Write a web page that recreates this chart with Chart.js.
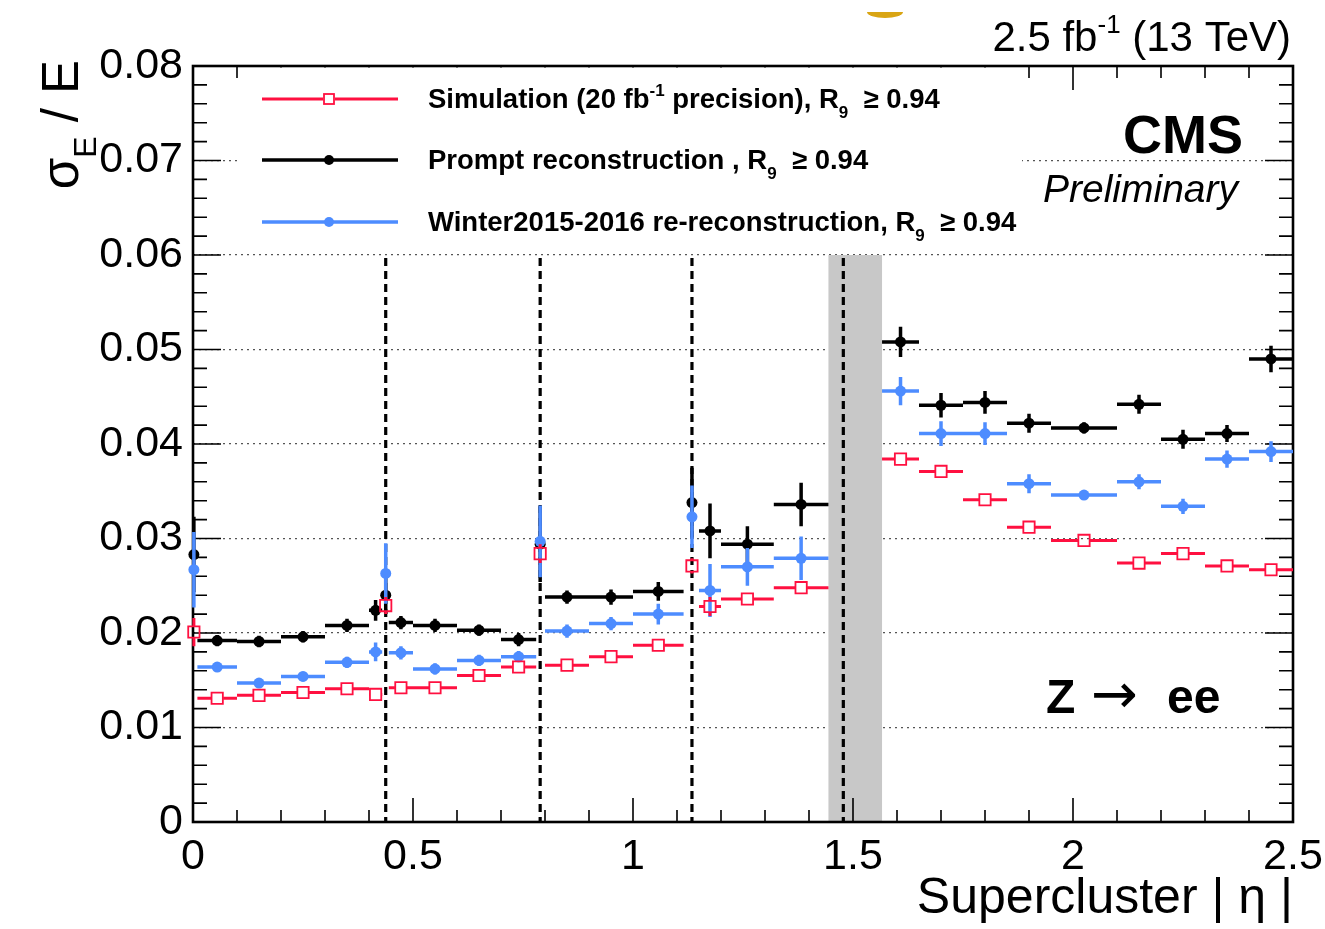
<!DOCTYPE html>
<html><head><meta charset="utf-8">
<script src="https://cdn.jsdelivr.net/npm/chart.js@4"></script>
<style>html,body{margin:0;padding:0;background:#fff;}canvas{display:block;}</style>
</head><body>
<canvas id="c" width="1325" height="929"></canvas>
<script>
// ---------------- data ----------------
const binLow  = [0.000, 0.010, 0.100, 0.200, 0.300, 0.400, 0.434, 0.445, 0.500, 0.600, 0.700, 0.785, 0.800, 0.900, 1.000, 1.130, 1.150, 1.200, 1.320, 1.566, 1.650, 1.750, 1.850, 1.950, 2.100, 2.200, 2.300, 2.400];
const binHigh = [0.004, 0.100, 0.200, 0.300, 0.400, 0.430, 0.442, 0.500, 0.600, 0.700, 0.780, 0.793, 0.900, 1.000, 1.115, 1.138, 1.200, 1.320, 1.4442, 1.650, 1.750, 1.850, 1.950, 2.100, 2.200, 2.300, 2.400, 2.500];

const simValues    = [0.0201, 0.0131, 0.0134, 0.0137, 0.0141, 0.0135, 0.0229, 0.0142, 0.0142, 0.0155, 0.0164, 0.0284, 0.0166, 0.0175, 0.0187, 0.0271, 0.0228, 0.0236, 0.0248, 0.0384, 0.0371, 0.0341, 0.0312, 0.0298, 0.0274, 0.0284, 0.0271, 0.0267];
const simErrors    = [0.0015, 0.0003, 0.0003, 0.0003, 0.0003, 0.0004, 0.0009, 0.0003, 0.0003, 0.0003, 0.0003, 0.0010, 0.0003, 0.0003, 0.0003, 0.0008, 0.0010, 0.0004, 0.0005, 0.0003, 0.0003, 0.0003, 0.0003, 0.0003, 0.0003, 0.0003, 0.0003, 0.0003];

const promptValues = [0.0283, 0.0192, 0.0191, 0.0196, 0.0208, 0.0224, 0.0240, 0.0211, 0.0208, 0.0203, 0.0193, 0.0294, 0.0238, 0.0238, 0.0244, 0.0338, 0.0308, 0.0294, 0.0336, 0.0508, 0.0441, 0.0444, 0.0422, 0.0417, 0.0442, 0.0405, 0.0411, 0.0490];
const promptErrors = [0.0040, 0.0006, 0.0006, 0.0006, 0.0007, 0.0011, 0.0020, 0.0007, 0.0007, 0.0006, 0.0007, 0.0040, 0.0007, 0.0008, 0.0010, 0.0037, 0.0029, 0.0019, 0.0023, 0.0016, 0.0013, 0.0012, 0.0010, 0.0006, 0.0010, 0.0010, 0.0009, 0.0014];

const rerecoValues = [0.0267, 0.0164, 0.0147, 0.0154, 0.0169, 0.0180, 0.0263, 0.0179, 0.0162, 0.0171, 0.0175, 0.0297, 0.0202, 0.0210, 0.0220, 0.0323, 0.0245, 0.0270, 0.0279, 0.0456, 0.0411, 0.0411, 0.0358, 0.0346, 0.0360, 0.0334, 0.0384, 0.0392];
const rerecoErrors = [0.0040, 0.0005, 0.0005, 0.0005, 0.0006, 0.0010, 0.0032, 0.0007, 0.0006, 0.0006, 0.0006, 0.0038, 0.0007, 0.0007, 0.0011, 0.0033, 0.0028, 0.0020, 0.0023, 0.0015, 0.0013, 0.0012, 0.0010, 0.0005, 0.0008, 0.0008, 0.0009, 0.0011];

const moduleBoundaries = [0.438, 0.789, 1.134, 1.478];
const gapRange = [1.4442, 1.566];

const xTickLabels = ['0', '0.5', '1', '1.5', '2', '2.5'];
const yTickLabels = ['0', '0.01', '0.02', '0.03', '0.04', '0.05', '0.06', '0.07', '0.08'];

const legendLabels = [
  [{t:'Simulation (20 fb'}, {t:'-1', s:'sup'}, {t:' precision), R'}, {t:'9', s:'sub'}, {t:'  \u2265 0.94'}],
  [{t:'Prompt reconstruction , R'}, {t:'9', s:'sub'}, {t:'  \u2265 0.94'}],
  [{t:'Winter2015-2016 re-reconstruction, R'}, {t:'9', s:'sub'}, {t:'  \u2265 0.94'}]
];

// ---------------- helpers ----------------
const FF = '"Liberation Sans", Arial, Helvetica, sans-serif';
const RED = '#ff1040', BLUE = '#4d8cff', BLACK = '#000000';

function makePoints(vals, errs) {
  return vals.map((v, i) => ({x: (binLow[i] + binHigh[i]) / 2, y: v, lo: binLow[i], hi: binHigh[i], e: errs[i]}));
}

function drawRich(ctx, x, y, parts, size, weight, style, align) {
  const fontFor = (p) => {
    const sz = p.s ? Math.round(size * 0.62) : size;
    return (style || 'normal') + ' ' + (weight || 'normal') + ' ' + sz + 'px ' + FF;
  };
  let total = 0;
  parts.forEach(p => { ctx.font = fontFor(p); total += ctx.measureText(p.t).width; });
  let cx = align === 'right' ? x - total : x;
  ctx.textAlign = 'left';
  ctx.textBaseline = 'alphabetic';
  parts.forEach(p => {
    ctx.font = fontFor(p);
    const dy = p.s === 'sup' ? -size * 0.42 : (p.s === 'sub' ? size * 0.35 : 0);
    ctx.fillText(p.t, cx, y + dy);
    cx += ctx.measureText(p.t).width;
  });
}

// error bars drawn per dataset through the chart scales
const errorBarPlugin = {
  id: 'errorBars',
  beforeDatasetDraw(chart, args) {
    const ds = chart.data.datasets[args.index];
    const ctx = chart.ctx, xs = chart.scales.x, ys = chart.scales.y;
    const gap = ds.markerGap || 0;
    ctx.save();
    ctx.strokeStyle = ds.borderColor;
    ctx.lineWidth = ds.errWidth;
    ctx.lineCap = 'butt';
    ds.data.forEach(p => {
      const x0 = xs.getPixelForValue(p.lo), x1 = xs.getPixelForValue(p.hi);
      const xc = xs.getPixelForValue(p.x), yc = ys.getPixelForValue(p.y);
      const yt = ys.getPixelForValue(p.y + p.e), yb = ys.getPixelForValue(p.y - p.e);
      ctx.beginPath();
      if (xc - gap > x0) { ctx.moveTo(x0, yc); ctx.lineTo(xc - gap, yc); }
      if (x1 > xc + gap) { ctx.moveTo(xc + gap, yc); ctx.lineTo(x1, yc); }
      if (yc - gap > yt) { ctx.moveTo(xc, yt); ctx.lineTo(xc, yc - gap); }
      if (yb > yc + gap) { ctx.moveTo(xc, yc + gap); ctx.lineTo(xc, yb); }
      ctx.stroke();
    });
    ctx.restore();
  }
};

// frame, ticks, gap band, boundaries, legend
const decorPlugin = {
  id: 'decor',
  beforeDatasetsDraw(chart) {
    const ctx = chart.ctx, xs = chart.scales.x, ys = chart.scales.y, a = chart.chartArea;
    ctx.save();
    // gap band
    ctx.fillStyle = '#c8c8c8';
    const gx0 = xs.getPixelForValue(gapRange[0]), gx1 = xs.getPixelForValue(gapRange[1]);
    const gyT = ys.getPixelForValue(0.06), gyB = ys.getPixelForValue(0);
    ctx.fillRect(gx0, gyT, gx1 - gx0, gyB - gyT);
    // module boundaries
    ctx.strokeStyle = '#000'; ctx.lineWidth = 3.2; ctx.setLineDash([8, 5]);
    moduleBoundaries.forEach(b => {
      const x = xs.getPixelForValue(b);
      ctx.beginPath(); ctx.moveTo(x, gyT + 3); ctx.lineTo(x, gyB); ctx.stroke();
    });
    ctx.setLineDash([]);
    // ticks
    ctx.lineWidth = 1.6; ctx.strokeStyle = '#000';
    ctx.beginPath();
    for (let k = 0; k <= 40; k++) {
      const y = ys.getPixelForValue(k * 0.002);
      const len = (k % 5 === 0) ? 28 : 14;
      ctx.moveTo(a.left, y); ctx.lineTo(a.left + len, y);
      ctx.moveTo(a.right, y); ctx.lineTo(a.right - len, y);
    }
    for (let k = 0; k <= 25; k++) {
      const x = xs.getPixelForValue(k * 0.1);
      const len = (k % 5 === 0) ? 24 : 12;
      ctx.moveTo(x, a.bottom); ctx.lineTo(x, a.bottom - len);
      ctx.moveTo(x, a.top); ctx.lineTo(x, a.top + len);
    }
    ctx.stroke();
    // legend box (white, covers grid/ticks)
    ctx.fillStyle = '#fff';
    ctx.fillRect(238, a.top + 1.5, 784, 184);
    // frame
    ctx.lineWidth = 2.6; ctx.strokeStyle = '#000';
    ctx.strokeRect(a.left, a.top, a.right - a.left, a.bottom - a.top);
    // legend entries
    const entries = [
      {ds: chart.data.datasets[0], y: 99, lab: 0},
      {ds: chart.data.datasets[2], y: 160, lab: 1},
      {ds: chart.data.datasets[1], y: 222, lab: 2}
    ];
    entries.forEach((en) => {
      const ds = en.ds, y = en.y, xm = 329;
      ctx.strokeStyle = ds.borderColor; ctx.lineWidth = ds.errWidth;
      const gap = ds.markerGap || 0;
      ctx.beginPath();
      ctx.moveTo(262, y); ctx.lineTo(xm - gap, y);
      ctx.moveTo(xm + gap, y); ctx.lineTo(398, y);
      ctx.stroke();
      if (ds.pointStyle === 'rect') {
        ctx.lineWidth = 1.8;
        ctx.strokeRect(xm - 5, y - 5, 10, 10);
      } else {
        ctx.fillStyle = ds.backgroundColor;
        ctx.beginPath(); ctx.arc(xm, y, 5, 0, Math.PI * 2); ctx.fill();
      }
      ctx.fillStyle = '#000';
      drawRich(ctx, 428, y + 9, legendLabels[en.lab], 27.5, 'bold', 'normal', 'left');
    });
    ctx.restore();
  },
  afterDraw(chart) {
    const ctx = chart.ctx;
    ctx.save();
    ctx.fillStyle = '#000';
    // luminosity label
    drawRich(ctx, 1291, 51, [{t:'2.5 fb'}, {t:'-1', s:'sup'}, {t:' (13 TeV)'}], 42, 'normal', 'normal', 'right');
    // CMS / Preliminary
    ctx.textAlign = 'right'; ctx.textBaseline = 'alphabetic';
    ctx.font = 'bold 54px ' + FF;
    ctx.fillText('CMS', 1243, 153);
    ctx.font = 'italic 39px ' + FF;
    ctx.fillText('Preliminary', 1238, 202);
    // Z -> ee
    ctx.textAlign = 'left';
    ctx.font = 'bold 48px ' + FF;
    ctx.fillText('Z', 1046, 713);
    ctx.font = 'normal 56px "DejaVu Sans", ' + FF;
    ctx.fillText('\u2192', 1091, 713);
    ctx.font = 'bold 48px ' + FF;
    ctx.fillText('ee', 1167, 713);
    // y axis title
    ctx.translate(78, 60);
    ctx.rotate(-Math.PI / 2);
    drawRich(ctx, 0, 0, [{t:'\u03c3'}, {t:'E', s:'sub'}, {t:' / E'}], 51, 'normal', 'normal', 'right');
    ctx.restore();
    // small logo fragment at top
    ctx.save();
    ctx.fillStyle = '#d9a514';
    ctx.beginPath();
    ctx.ellipse(885, 12, 18, 6, 0, 0, Math.PI);
    ctx.fill();
    ctx.restore();
  }
};

// ---------------- chart ----------------
new Chart(document.getElementById('c'), {
  type: 'scatter',
  data: {
    datasets: [
      { label: 'Simulation (20 fb-1 precision), R9 >= 0.94', data: makePoints(simValues, simErrors),
        pointStyle: 'rect', pointRadius: 8, borderWidth: 1.8, borderColor: RED, backgroundColor: 'rgba(0,0,0,0)',
        errWidth: 3, markerGap: 6, clip: false },
      { label: 'Winter2015-2016 re-reconstruction, R9 >= 0.94', data: makePoints(rerecoValues, rerecoErrors),
        pointStyle: 'circle', pointRadius: 5.5, borderWidth: 0, borderColor: BLUE, backgroundColor: BLUE,
        errWidth: 3.5, clip: false },
      { label: 'Prompt reconstruction , R9 >= 0.94', data: makePoints(promptValues, promptErrors),
        pointStyle: 'circle', pointRadius: 5.5, borderWidth: 0, borderColor: BLACK, backgroundColor: BLACK,
        errWidth: 3.5, clip: false }
    ]
  },
  options: {
    responsive: false,
    animation: false,
    devicePixelRatio: 1,
    events: [],
    layout: { padding: { top: 66, right: 32, left: 0, bottom: 0 } },
    plugins: { legend: { display: false }, tooltip: { enabled: false } },
    scales: {
      x: {
        type: 'linear', min: 0, max: 2.5,
        ticks: { stepSize: 0.5, color: '#000', padding: 9, maxRotation: 0,
                 font: { family: FF, size: 43 },
                 callback: (v) => xTickLabels[Math.round(v / 0.5)] },
        grid: { display: false, drawTicks: false },
        border: { display: false },
        title: { display: true, text: 'Supercluster | \u03b7 |', align: 'end', color: '#000',
                 font: { family: FF, size: 50 }, padding: { top: 0, bottom: 0 } },
        afterFit: (s) => { s.height = 107; s.paddingLeft = 0; s.paddingRight = 0; }
      },
      y: {
        type: 'linear', min: 0, max: 0.08,
        ticks: { stepSize: 0.01, color: '#000', padding: 10,
                 font: { family: FF, size: 43 },
                 callback: (v) => yTickLabels[Math.round(v / 0.01)] },
        grid: { color: '#555', lineWidth: 1.3, drawTicks: false },
        border: { display: false, dash: [2, 4] },
        afterFit: (s) => { s.width = 193; s.paddingTop = 0; s.paddingBottom = 0; }
      }
    }
  },
  plugins: [errorBarPlugin, decorPlugin]
});
</script>
</body></html>
